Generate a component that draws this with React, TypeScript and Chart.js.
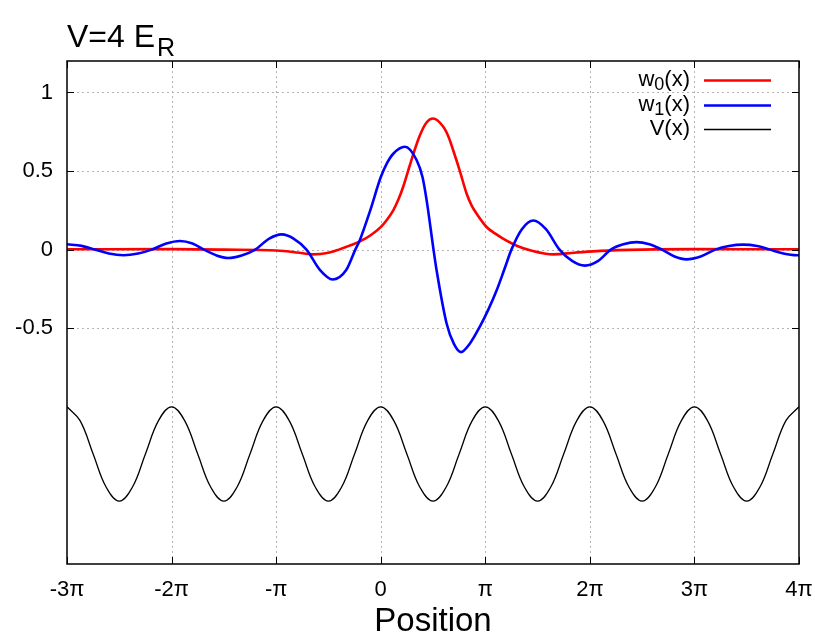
import React, { useEffect, useRef } from 'react';
import { Chart, registerables } from 'chart.js';

Chart.register(...registerables);

// ---- Data (x in units of π) ----
const xTickValues = [-3, -2, -1, 0, 1, 2, 3, 4];
const xTickLabels = ['-3π', '-2π', '-π', '0', 'π', '2π', '3π', '4π'];
const yTickValues = [-0.5, 0, 0.5, 1];
const yTickLabels = ['-0.5', '0', '0.5', '1'];

const w0X = [-3.0, -2.0, -1.5, -1.0, -0.8, -0.65, -0.5, -0.4, -0.3, -0.2, -0.1, 0.0, 0.06, 0.12, 0.17, 0.215, 0.28, 0.33, 0.375, 0.44, 0.5, 0.6, 0.65, 0.693, 0.757, 0.821, 0.87, 0.917, 1.012, 1.1, 1.17, 1.3, 1.43, 1.65, 1.85, 2.1, 2.5, 3.0, 4.0];
const w0Y = [0.002, 0.003, 0.0, -0.006, -0.018, -0.03, -0.02, 0.0, 0.025, 0.052, 0.09, 0.143, 0.19, 0.25, 0.32, 0.40, 0.54, 0.645, 0.728, 0.81, 0.834, 0.78, 0.715, 0.632, 0.50, 0.357, 0.28, 0.229, 0.144, 0.10, 0.07, 0.025, -0.004, -0.03, -0.02, -0.008, 0.0, 0.003, 0.002];

const w1X = [-3.0, -2.86, -2.73, -2.6, -2.46, -2.32, -2.19, -2.05, -1.92, -1.8, -1.69, -1.57, -1.458, -1.33, -1.2, -1.07, -0.947, -0.83, -0.71, -0.58, -0.46, -0.33, -0.243, -0.2, -0.1, 0.0, 0.06, 0.12, 0.231, 0.343, 0.40, 0.44, 0.505, 0.534, 0.63, 0.70, 0.767, 0.85, 0.948, 1.03, 1.108, 1.18, 1.25, 1.35, 1.46, 1.58, 1.71, 1.83, 1.952, 2.08, 2.2, 2.32, 2.446, 2.57, 2.69, 2.81, 2.924, 3.06, 3.2, 3.33, 3.466, 3.6, 3.72, 3.85, 3.976, 4.0];
const w1Y = [0.034, 0.024, 0.0, -0.025, -0.036, -0.025, 0.0, 0.039, 0.055, 0.039, 0.0, -0.037, -0.053, -0.037, 0.0, 0.069, 0.097, 0.069, 0.0, -0.13, -0.19, -0.13, 0.0, 0.06, 0.25, 0.46, 0.55, 0.61, 0.654, 0.57, 0.46, 0.31, 0.0, -0.13, -0.47, -0.60, -0.652, -0.60, -0.49, -0.38, -0.26, -0.13, 0.0, 0.13, 0.185, 0.13, 0.0, -0.072, -0.102, -0.072, 0.0, 0.034, 0.048, 0.034, 0.0, -0.044, -0.062, -0.044, 0.0, 0.023, 0.032, 0.023, 0.0, -0.025, -0.036, -0.036];

// V(x) sampled every π/8 from -3π to 4π
const vStart = -3;
const vStep = 0.125;
const vY = [
  -1.0, -1.088, -1.3, -1.512, -1.6, -1.512, -1.3, -1.088,
  -1.0, -1.088, -1.3, -1.512, -1.6, -1.512, -1.3, -1.088,
  -1.0, -1.088, -1.3, -1.512, -1.6, -1.512, -1.3, -1.088,
  -1.0, -1.088, -1.3, -1.512, -1.6, -1.512, -1.3, -1.088,
  -1.0, -1.088, -1.3, -1.512, -1.6, -1.512, -1.3, -1.088,
  -1.0, -1.088, -1.3, -1.512, -1.6, -1.512, -1.3, -1.088,
  -1.0, -1.088, -1.3, -1.512, -1.6, -1.512, -1.3, -1.088,
  -1.0,
];

const seriesNames = ['w0(x)', 'w1(x)', 'V(x)'];
const seriesColors = ['#ff0000', '#0000ff', '#000000'];
const seriesWidths = [2.6, 2.6, 1.3];

const FONT = '"Liberation Sans", Arial, sans-serif';

const decorPlugin = {
  id: 'decor',
  beforeDatasetsDraw(chart: any) {
    const { ctx, chartArea: a, scales } = chart;
    const xs = scales.x;
    const ys = scales.y;
    ctx.save();
    ctx.strokeStyle = '#b4b4b4';
    ctx.lineWidth = 1;
    ctx.setLineDash([2, 3]);
    xTickValues.forEach((v) => {
      const px = Math.round(xs.getPixelForValue(v)) + 0.5;
      if (px <= a.left + 1 || px >= a.right - 1) return;
      ctx.beginPath();
      ctx.moveTo(px, a.top);
      ctx.lineTo(px, a.bottom);
      ctx.stroke();
    });
    yTickValues.forEach((v) => {
      const py = Math.round(ys.getPixelForValue(v)) + 0.5;
      ctx.beginPath();
      ctx.moveTo(a.left, py);
      ctx.lineTo(a.right, py);
      ctx.stroke();
    });
    ctx.restore();
  },
  afterDatasetsDraw(chart: any) {
    const { ctx, chartArea: a, scales } = chart;
    const xs = scales.x;
    const ys = scales.y;
    ctx.save();
    ctx.setLineDash([]);
    ctx.strokeStyle = '#000';
    ctx.lineWidth = 1;
    const tl = 7;
    xTickValues.forEach((v) => {
      const px = Math.round(xs.getPixelForValue(v)) + 0.5;
      ctx.beginPath();
      ctx.moveTo(px, a.bottom);
      ctx.lineTo(px, a.bottom - tl);
      ctx.moveTo(px, a.top);
      ctx.lineTo(px, a.top + tl);
      ctx.stroke();
    });
    yTickValues.forEach((v) => {
      const py = Math.round(ys.getPixelForValue(v)) + 0.5;
      ctx.beginPath();
      ctx.moveTo(a.left, py);
      ctx.lineTo(a.left + tl, py);
      ctx.moveTo(a.right, py);
      ctx.lineTo(a.right - tl, py);
      ctx.stroke();
    });
    ctx.lineWidth = 1.5;
    ctx.strokeRect(a.left, a.top, a.right - a.left, a.bottom - a.top);

    // legend
    const textRight = 690;
    const lineX0 = 704;
    const lineX1 = 771;
    const rowY = [80, 105, 129];
    const fs = 22;
    ctx.fillStyle = '#000';
    ctx.textBaseline = 'middle';
    seriesNames.forEach((name, i) => {
      const y = rowY[i];
      const m = name.match(/^w(\d)\((x)\)$/);
      if (m) {
        const parts = [
          { t: 'w', size: fs, dy: 0 },
          { t: m[1], size: Math.round(fs * 0.8), dy: 5 },
          { t: '(x)', size: fs, dy: 0 },
        ];
        let total = 0;
        parts.forEach((p) => {
          ctx.font = `${p.size}px ${FONT}`;
          total += ctx.measureText(p.t).width;
        });
        let x = textRight - total;
        ctx.textAlign = 'left';
        parts.forEach((p) => {
          ctx.font = `${p.size}px ${FONT}`;
          ctx.fillText(p.t, x, y + p.dy);
          x += ctx.measureText(p.t).width;
        });
      } else {
        ctx.font = `${fs}px ${FONT}`;
        ctx.textAlign = 'right';
        ctx.fillText(name, textRight, y);
      }
      ctx.strokeStyle = seriesColors[i];
      ctx.lineWidth = seriesWidths[i];
      ctx.beginPath();
      ctx.moveTo(lineX0, y + 0.5);
      ctx.lineTo(lineX1, y + 0.5);
      ctx.stroke();
    });

    // title V=4 E_R
    ctx.textAlign = 'left';
    ctx.textBaseline = 'alphabetic';
    ctx.fillStyle = '#000';
    ctx.font = `32px ${FONT}`;
    const main = 'V=4 E';
    ctx.fillText(main, 67, 47);
    const w = ctx.measureText(main).width;
    ctx.font = `25px ${FONT}`;
    ctx.fillText('R', 67 + w + 2, 56);
    ctx.restore();
  },
};

export default function App() {
  const ref = useRef<HTMLCanvasElement | null>(null);

  useEffect(() => {
    if (!ref.current) return;
    const w0Data = w0X.map((x, i) => ({ x, y: w0Y[i] }));
    const w1Data = w1X.map((x, i) => ({ x, y: w1Y[i] }));
    const vData = vY.map((y, i) => ({ x: vStart + i * vStep, y }));

    const chart = new Chart(ref.current, {
      type: 'line',
      data: {
        datasets: [
          { label: seriesNames[0], data: w0Data, borderColor: seriesColors[0], borderWidth: seriesWidths[0], pointRadius: 0, cubicInterpolationMode: 'monotone', fill: false, order: 1 },
          { label: seriesNames[1], data: w1Data, borderColor: seriesColors[1], borderWidth: seriesWidths[1], pointRadius: 0, cubicInterpolationMode: 'monotone', fill: false, order: 0 },
          { label: seriesNames[2], data: vData, borderColor: seriesColors[2], borderWidth: seriesWidths[2], pointRadius: 0, tension: 0.4, fill: false, order: 2 },
        ],
      },
      options: {
        animation: false,
        responsive: false,
        devicePixelRatio: 1,
        layout: { padding: { left: 0, top: 61, right: 16, bottom: 0 } },
        plugins: {
          legend: { display: false },
          title: { display: false },
          tooltip: { enabled: false },
        },
        scales: {
          x: {
            type: 'linear',
            min: -3,
            max: 4,
            afterBuildTicks: (s: any) => {
              s.ticks = xTickValues.map((v) => ({ value: v }));
            },
            afterFit: (s: any) => {
              s.height = 74;
              s.paddingLeft = 0;
              s.paddingRight = 0;
            },
            ticks: {
              autoSkip: false,
              maxRotation: 0,
              padding: 13,
              color: '#000',
              font: { family: FONT, size: 22 },
              callback: (v: any) => {
                const i = xTickValues.indexOf(Number(v));
                return i >= 0 ? xTickLabels[i] : '';
              },
            },
            grid: { display: false, drawTicks: false },
            border: { display: false },
            title: {
              display: true,
              text: 'Position',
              color: '#000',
              font: { family: FONT, size: 33, lineHeight: 1 },
              padding: { top: 0, bottom: 0 },
            },
          },
          y: {
            type: 'linear',
            min: -2,
            max: 1.2,
            afterBuildTicks: (s: any) => {
              s.ticks = yTickValues.map((v) => ({ value: v }));
            },
            afterFit: (s: any) => {
              s.width = 67;
              s.paddingTop = 0;
              s.paddingBottom = 0;
            },
            ticks: {
              padding: 14,
              color: '#000',
              font: { family: FONT, size: 22 },
              callback: (v: any) => {
                const i = yTickValues.indexOf(Number(v));
                return i >= 0 ? yTickLabels[i] : '';
              },
            },
            grid: { display: false, drawTicks: false },
            border: { display: false },
          },
        },
      },
      plugins: [decorPlugin],
    });
    return () => chart.destroy();
  }, []);

  return (
    <div style={{ position: 'absolute', left: 0, top: 0, width: 815, height: 638, background: '#fff' }}>
      <canvas ref={ref} width={815} height={638} style={{ display: 'block', width: 815, height: 638 }} />
    </div>
  );
}
